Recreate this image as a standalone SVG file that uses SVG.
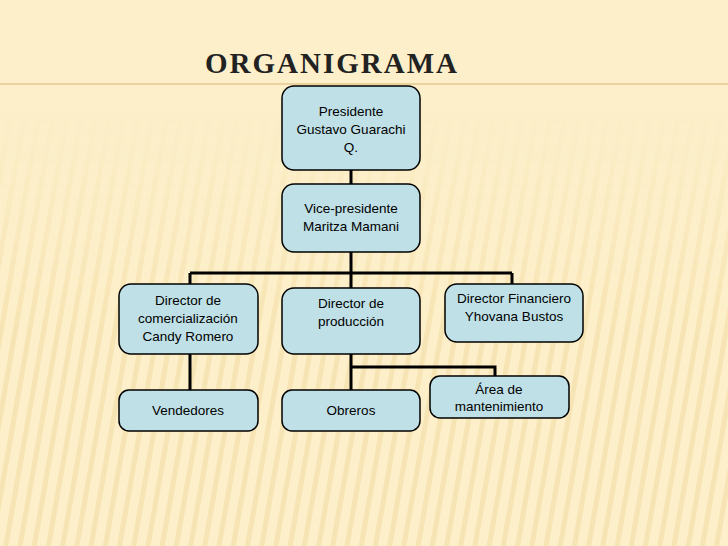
<svg xmlns="http://www.w3.org/2000/svg" width="728" height="546" viewBox="0 0 728 546">
<style>
.n rect{fill:#bfe0e6;stroke:#000;stroke-width:1.5}
.n text{font-family:"Liberation Sans",Arial,sans-serif;font-size:13.5px;fill:#000;text-anchor:middle}
.c{stroke:#000;stroke-width:3;fill:none}
</style>
<defs>
<pattern id="st" width="14" height="14" patternUnits="userSpaceOnUse" patternTransform="rotate(10)">
<rect width="14" height="14" fill="#fcefc9"/><rect width="5" height="14" fill="#f7e4b4"/>
</pattern>
<linearGradient id="fade" x1="0" y1="0" x2="0" y2="1"><stop offset="0.2" stop-color="#fff" stop-opacity="0"/><stop offset="0.6" stop-color="#fff" stop-opacity="1"/></linearGradient>
<mask id="m"><rect width="728" height="546" fill="url(#fade)"/></mask>
</defs>
<rect width="728" height="546" fill="#fcefc9"/>
<rect width="728" height="546" fill="url(#st)" mask="url(#m)"/>
<line x1="0" y1="84" x2="728" y2="84" stroke="#e3c98f" stroke-width="1.5"/>
<text x="205" y="73" font-family="Liberation Serif,serif" font-weight="bold" font-size="29" letter-spacing="2" fill="#222">ORGANIGRAMA</text>
<g id="connectors">
<path class="c" d="M351 170V184M351 252V288M190 273H512M190 273V284M512 273V284M190 354V390M351 354V390M351 367H495V376"/>
</g>
<g id="presidente" class="n"><rect x="282" y="86" width="138" height="84" rx="12"/><text x="351" y="116">Presidente</text><text x="351" y="134">Gustavo Guarachi</text><text x="351" y="152">Q.</text></g>
<g id="vice" class="n"><rect x="282" y="184" width="138" height="68" rx="12"/><text x="351" y="213">Vice-presidente</text><text x="351" y="231">Maritza Mamani</text></g>
<g id="comercializacion" class="n"><rect x="119" y="284" width="139" height="70" rx="12"/><text x="188" y="305">Director de</text><text x="188" y="323">comercialización</text><text x="188" y="341">Candy Romero</text></g>
<g id="produccion" class="n"><rect x="282" y="288" width="138" height="66" rx="12"/><text x="351" y="308">Director de</text><text x="351" y="326">producción</text></g>
<g id="financiero" class="n"><rect x="445" y="284" width="138" height="58" rx="12"/><text x="514" y="303">Director Financiero</text><text x="514" y="321">Yhovana Bustos</text></g>
<g id="vendedores" class="n"><rect x="119" y="390" width="139" height="41" rx="10"/><text x="188" y="415">Vendedores</text></g>
<g id="obreros" class="n"><rect x="282" y="390" width="138" height="41" rx="10"/><text x="351" y="415">Obreros</text></g>
<g id="mantenimiento" class="n"><rect x="430" y="376" width="139" height="42" rx="10"/><text x="499" y="394">Área de</text><text x="499" y="411">mantenimiento</text></g>
</svg>
